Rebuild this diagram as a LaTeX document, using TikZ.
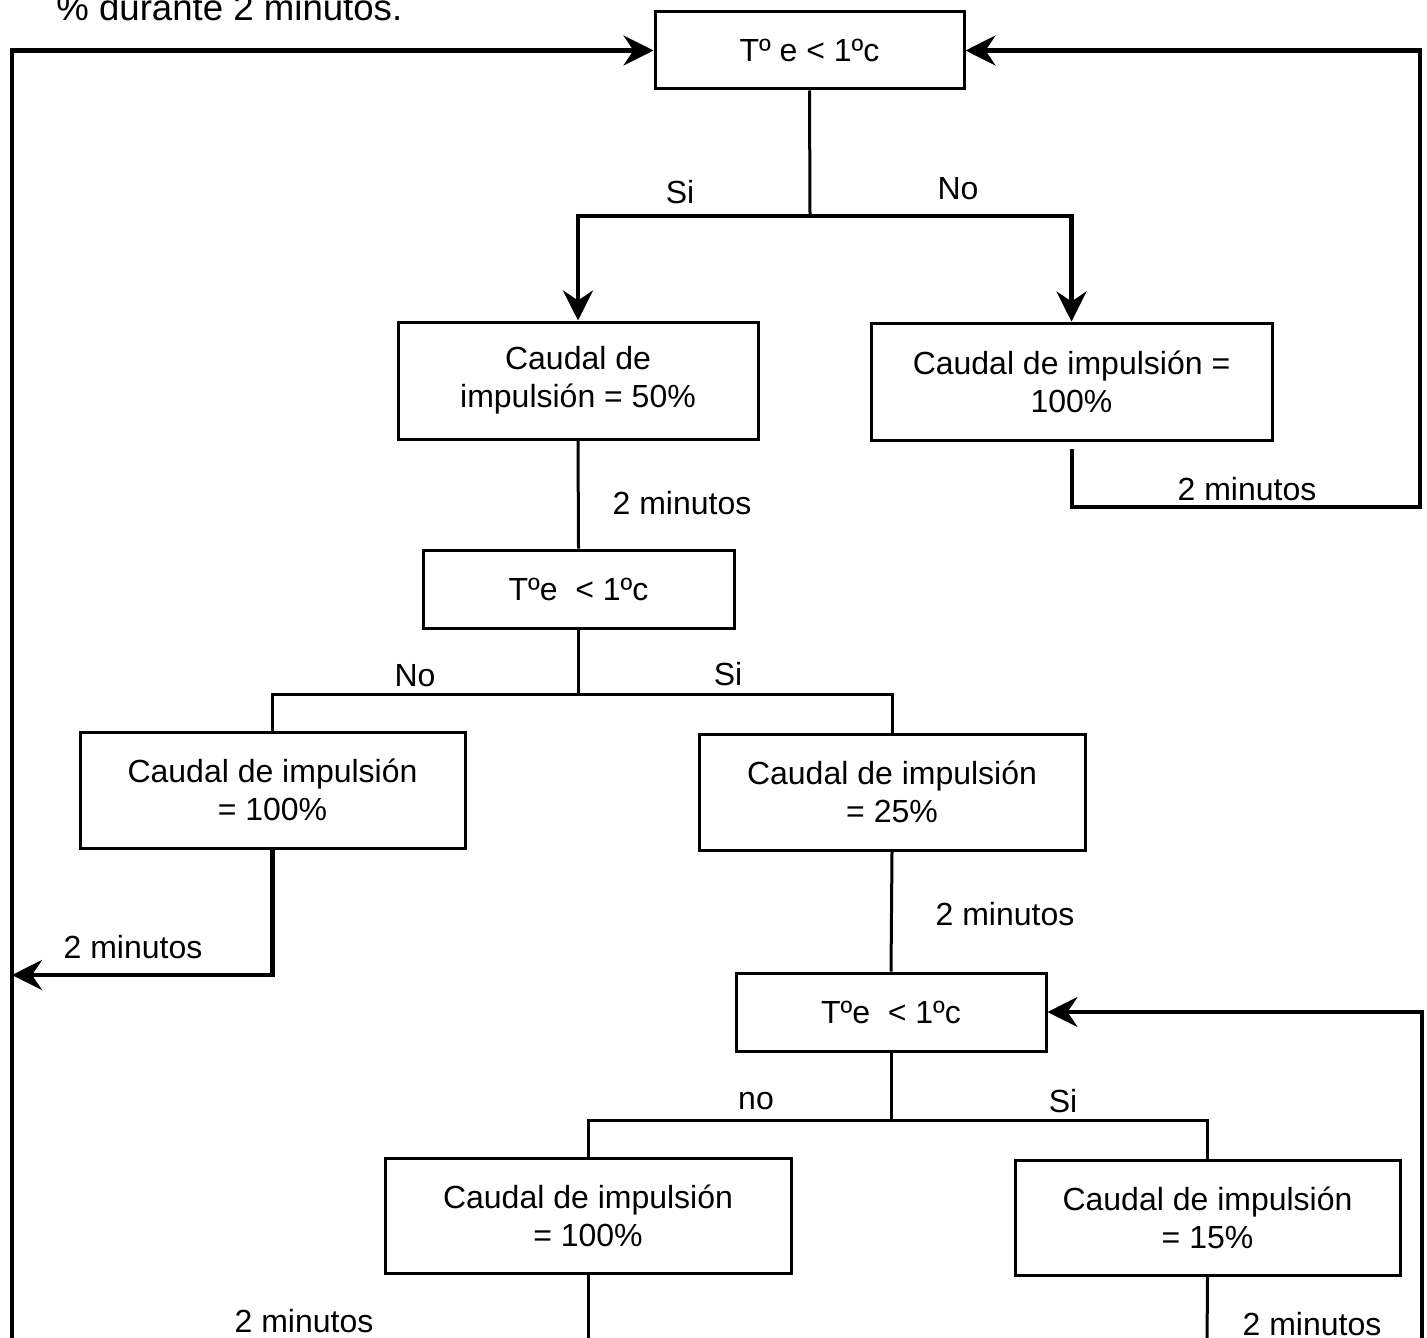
\documentclass[tikz,border=0pt]{standalone}
\usepackage{fontspec}
\setmainfont{Liberation Sans}
\usetikzlibrary{arrows.meta}
\tikzset{
  box/.style 2 args={draw, line width=1.5pt, rectangle, align=center,
    minimum width=#1*0.5pt, minimum height=#2*0.5pt, inner sep=0pt,
    font=\fontsize{16}{19}\selectfont},
  conn/.style={line width=1.5pt},
  thick conn/.style={line width=2.2pt},
  arr/.style={line width=2.2pt, -{Stealth[length=15pt,width=15pt,inset=5pt]}},
  lbl/.style={inner sep=0pt, font=\fontsize{16}{19}\selectfont},
}
\begin{document}
\begin{tikzpicture}[x=0.5pt,y=-0.5pt]
\useasboundingbox (0,0) rectangle (1427,1337);
\clip (0,0) rectangle (1427,1337);
% top cut text
\node[inner sep=0pt, anchor=base west, font=\fontsize{18.3}{22}\selectfont] (toptxt) at (56,21) {\% durante 2 minutos.};
% boxes
\node[box={309}{77}] (A) at (809.5,50.5) {Tº e < 1ºc};
\node[box={360}{117}] (B) at (578,380.5) {Caudal de\\impulsión = 50\%};
\node[box={401}{117}] (C) at (1071.5,381.5) {Caudal de impulsión =\\100\%};
\node[box={311}{78}] (D) at (578.5,589) {Tºe~~< 1ºc};
\node[box={385}{116}] (E) at (272.5,790) {Caudal de impulsión\\= 100\%};
\node[box={386}{116}] (F) at (892,792) {Caudal de impulsión\\= 25\%};
\node[box={310}{78}] (G) at (891,1012) {Tºe~~< 1ºc};
\node[box={406}{115}] (H) at (588,1215.5) {Caudal de impulsión\\= 100\%};
\node[box={385}{115}] (I) at (1207.5,1217.5) {Caudal de impulsión\\= 15\%};
% junction coordinates
\coordinate (j1) at (810,216);
\coordinate (j2) at (578.5,694);
\coordinate (j3) at (891,1120);
\coordinate (c1) at (1072,449);
\coordinate (r1) at (1420,507);
\coordinate (l1) at (12,975);
\coordinate (hb) at (588,1345);
\coordinate (ib) at (1207,1345);
\coordinate (rb) at (1422,1345);
\coordinate (lb) at (12,1345);
% top branch
\draw[conn] (A.south) -- (j1);
\draw[arr] (j1) -| (B.north);
\draw[arr] (j1) -| (C.north);
\node[lbl] (si1) at (680,192) {Si};
\node[lbl] (no1) at (958,189) {No};
% C loop back
\draw[arr] (c1) |- (r1) |- (A.east);
\node[lbl] (m1) at (1247,489) {2 minutos};
% B to D
\draw[conn] (B.south) -- (D.north);
\node[lbl] (m2) at (682,503) {2 minutos};
% D branch
\draw[conn] (D.south) -- (j2);
\draw[conn] (j2) -| (E.north);
\draw[conn] (j2) -| (F.north);
\node[lbl] (no2) at (415,676) {No};
\node[lbl] (si2) at (728,674) {Si};
% E to left
\draw[arr] (E.south) |- (l1);
\node[lbl] (m3) at (133,947) {2 minutos};
% F to G
\draw[conn] (F.south) -- (G.north);
\node[lbl] (m4) at (1005,914) {2 minutos};
% G branch
\draw[conn] (G.south) -- (j3);
\draw[conn] (j3) -| (H.north);
\draw[conn] (j3) -| (I.north);
\node[lbl] (no3) at (756,1101) {no};
\node[lbl] (si3) at (1063,1101) {Si};
% H, I down
\draw[conn] (H.south) -- (hb);
\draw[conn] (I.south) -- (ib);
\node[lbl] (m5) at (304,1321) {2 minutos};
\node[lbl] (m6) at (1312,1324) {2 minutos};
% right loop into G
\draw[arr] (rb) |- (G.east);
% left loop into A
\draw[arr] (lb) |- (A.west);
\end{tikzpicture}
\end{document}
